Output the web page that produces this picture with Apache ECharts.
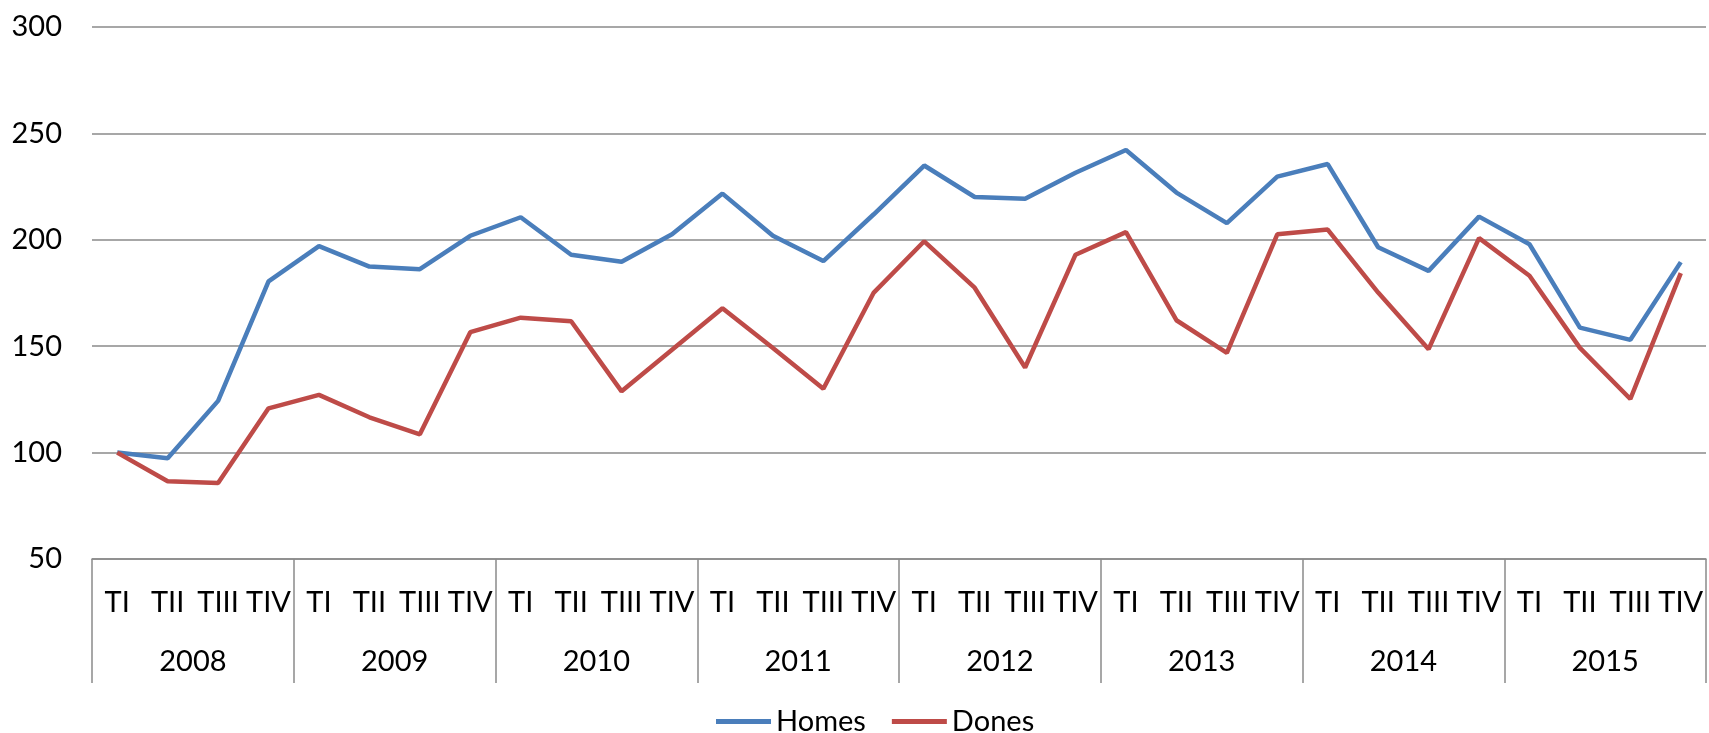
<!DOCTYPE html>
<html>
<head>
  <meta charset="utf-8">
  <title>Homes / Dones</title>
  <script src="https://cdn.jsdelivr.net/npm/echarts@6/dist/echarts.min.js"></script>
  <style>
    html, body { margin: 0; padding: 0; background: #fff; }
    #chart { width: 1709px; height: 733px; }
  </style>
</head>
<body>
<div id="chart"></div>
<script>
// trimestres i anys
var years = ['2008', '2009', '2010', '2011', '2012', '2013', '2014', '2015']
var quarterNames = ['TI', 'TII', 'TIII', 'TIV']
var quarters = []
years.forEach(function () {
  quarterNames.forEach(function (q) { quarters.push(q) })
})

// index (2008 TI = 100)
var homes = [
  100, 97.3, 124.3, 180.5,
  197, 187.4, 186.2, 201.9,
  210.6, 193, 189.7, 202.6,
  221.7, 201.9, 190, 212,
  234.9, 220.1, 219.3, 231.5,
  242.2, 222.2, 207.8, 229.7,
  235.6, 196.5, 185.4, 210.9,
  197.9, 158.7, 153, 189.5
]
var dones = [
  100, 86.5, 85.7, 120.8,
  127.1, 116.6, 108.6, 156.6,
  163.4, 161.7, 128.8, 148.3,
  167.8, 149.2, 130, 175.2,
  199.3, 177.5, 140, 193,
  203.6, 162.2, 146.9, 202.6,
  204.8, 175.2, 148.6, 200.8,
  183.1, 149.2, 125.2, 184.3
]

var yTicks = [50, 100, 150, 200, 250, 300]

var font = 'Lato, "Liberation Sans", sans-serif'
var gridColor = '#8a8a8a'

var chart = echarts.init(document.getElementById('chart'))
chart.setOption({
  animation: false,
  textStyle: { fontFamily: font },
  grid: {
    left: 92,
    right: 3,
    top: 27,
    bottom: 174,
    containLabel: false,
    outerBoundsMode: 'none'
  },
  legend: {
    left: 711,
    top: 702,
    icon: 'rect',
    itemWidth: 55,
    itemHeight: 5,
    itemGap: 26,
    textStyle: { fontFamily: font, fontSize: 29, color: '#000', lineHeight: 29 },
    data: ['Homes', 'Dones']
  },
  xAxis: [{
    type: 'category',
    data: quarters,
    position: 'bottom',
    axisLine: { show: true, lineStyle: { color: gridColor, width: 1.5 } },
    axisTick: { show: false },
    axisLabel: {
      interval: 0,
      margin: 29,
      fontFamily: font,
      fontSize: 29,
      lineHeight: 29,
      color: '#000'
    }
  }, {
    type: 'category',
    data: years,
    position: 'bottom',
    axisLine: { show: false },
    axisTick: { show: true, length: 124, lineStyle: { color: gridColor, width: 1.5 } },
    axisLabel: {
      interval: 0,
      margin: 88,
      fontFamily: font,
      fontSize: 29,
      lineHeight: 29,
      color: '#000'
    }
  }],
  yAxis: {
    type: 'value',
    min: yTicks[0],
    max: yTicks[yTicks.length - 1],
    interval: 50,
    axisLine: { show: false },
    axisTick: { show: false },
    axisLabel: {
      margin: 30,
      fontFamily: font,
      fontSize: 29,
      color: '#000'
    },
    splitLine: { lineStyle: { color: gridColor, width: 1.5 } }
  },
  series: [{
    name: 'Homes',
    type: 'line',
    xAxisIndex: 0,
    symbol: 'none',
    color: '#4A7EBB',
    lineStyle: { width: 4.5, color: '#4A7EBB' },
    data: homes
  }, {
    name: 'Dones',
    type: 'line',
    xAxisIndex: 0,
    symbol: 'none',
    color: '#BE4B48',
    lineStyle: { width: 4.5, color: '#BE4B48' },
    data: dones
  }]
})
</script>
</body>
</html>
